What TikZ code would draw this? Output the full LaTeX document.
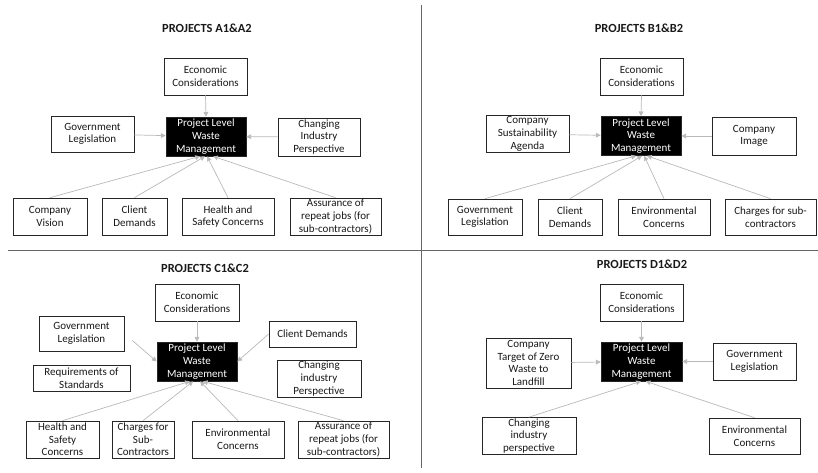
\documentclass[tikz,border=0pt]{standalone}
\usepackage{fontspec}
\setmainfont{Carlito}
\usepackage{tikz}
\usetikzlibrary{arrows.meta, positioning}
\tikzset{
	facbox/.style={draw=black!85, line width=0.6pt, fill=white, align=center, inner sep=1pt, text=black!90, font=\fontsize{9.4}{10.8}\selectfont},
	corebox/.style={facbox, fill=black, text=white},
	sz/.style 2 args={minimum width=#1*0.3mm, minimum height=#2*0.3mm},
	infarr/.style={-{Triangle[length=4pt, width=4pt]}, draw=gray!55, line width=0.6pt},
	paneltitle/.style={font=\fontsize{10.6}{12}\selectfont\bfseries, text=black!90},
	divider/.style={draw=gray!80!black, line width=0.8pt},
}

\begin{document}
\begin{tikzpicture}[x=0.03cm, y=-0.03cm]
	\useasboundingbox (0,0) rectangle (818,472);
	\draw[divider] (421,5) -- (421,468);
	\draw[divider] (8,250) -- (818,250);

	% projects A1 & A2
	\node[paneltitle] (titleA) at (207,28) {PROJECTS A1\&A2};
	\node[facbox, sz={83}{37}] (ecA) at (205.5,76.5) {Economic\\Considerations};
	\node[corebox, sz={80}{39}] (pmA) at (206,136.5) {Project Level\\Waste\\Management};
	\node[facbox, sz={83}{36}] (glA) at (92.5,134) {Government\\Legislation};
	\node[facbox, sz={82}{38}] (ciA) at (319,137) {Changing\\Industry\\Perspective};
	\node[facbox, sz={74}{37}] (cvA) at (50,216.5) {Company\\Vision};
	\node[facbox, sz={65}{37}] (cdA) at (134.5,216.5) {Client\\Demands};
	\node[facbox, sz={92}{37}] (hsA) at (228,216.5) {Health and\\Safety Concerns};
	\node[facbox, sz={91}{37}] (arA) at (335.5,216.5) {Assurance of\\repeat jobs (for\\sub-contractors)};
	\draw[infarr] (ecA.south) -- (pmA.north);
	\draw[infarr] (glA) -- (pmA);
	\draw[infarr] (ciA) -- (pmA);
	\draw[infarr] (cvA.north) -- (pmA.-107);
	\draw[infarr] (cdA.north) -- (pmA.-93);
	\draw[infarr] (hsA.north) -- (pmA.-87);
	\draw[infarr] (arA.north) -- (pmA.-70);

	% projects B1 & B2
	\node[paneltitle] (titleB) at (639,28) {PROJECTS B1\&B2};
	\node[facbox, sz={83}{37}] (ecB) at (641.5,76.5) {Economic\\Considerations};
	\node[corebox, sz={80}{39}] (pmB) at (641,136) {Project Level\\Waste\\Management};
	\node[facbox, sz={83}{36}] (csB) at (527.5,134) {Company\\Sustainability\\Agenda};
	\node[facbox, sz={84}{38}] (imB) at (754,136) {Company\\Image};
	\node[facbox, sz={74}{36}] (glB) at (485,217) {Government\\Legislation};
	\node[facbox, sz={64}{36}] (cdB) at (570,217) {Client\\Demands};
	\node[facbox, sz={92}{36}] (enB) at (664,217) {Environmental\\Concerns};
	\node[facbox, sz={91}{36}] (chB) at (770.5,217) {Charges for sub-\\contractors};
	\draw[infarr] (ecB.south) -- (pmB.north);
	\draw[infarr] (csB) -- (pmB);
	\draw[infarr] (imB) -- (pmB);
	\draw[infarr] (glB.north) -- (pmB.-104);
	\draw[infarr] (cdB.north) -- (pmB.-87);
	\draw[infarr] (enB.north) -- (pmB.-81);
	\draw[infarr] (chB.north) -- (pmB.-73);

	% projects C1 & C2
	\node[paneltitle] (titleC) at (205,268) {PROJECTS C1\&C2};
	\node[facbox, sz={84}{37}] (ecC) at (197,302.5) {Economic\\Considerations};
	\node[corebox, sz={80}{39}] (pmC) at (197,361.5) {Project Level\\Waste\\Management};
	\node[facbox, sz={85}{35}] (glC) at (81.5,333.5) {Government\\Legislation};
	\node[facbox, sz={87}{26}] (cdC) at (312.5,334) {Client Demands};
	\node[facbox, sz={97}{26}] (rsC) at (81.5,378) {Requirements of\\Standards};
	\node[facbox, sz={84}{37}] (ciC) at (319,378.5) {Changing\\industry\\Perspective};
	\node[facbox, sz={73}{37}] (hsC) at (62.5,439.5) {Health and\\Safety\\Concerns};
	\node[facbox, sz={62}{37}] (chC) at (143,439.5) {Charges for\\Sub-\\Contractors};
	\node[facbox, sz={92}{37}] (enC) at (238,439.5) {Environmental\\Concerns};
	\node[facbox, sz={91}{37}] (arC) at (343.5,439.5) {Assurance of\\repeat jobs (for\\sub-contractors)};
	\draw[infarr] (ecC.south) -- (pmC.north);
	\draw[infarr, shorten <=9pt] (glC.east) -- (pmC.west);
	\draw[infarr] (cdC.west) -- (pmC.east);
	\draw[infarr] (hsC.north) -- (pmC.-110);
	\draw[infarr] (chC.north) -- (pmC.-101);
	\draw[infarr] (enC.north) -- (pmC.-81);
	\draw[infarr] (arC.north) -- (pmC.-73);

	% projects D1 & D2
	\node[paneltitle] (titleD) at (642,264) {PROJECTS D1\&D2};
	\node[facbox, sz={83}{37}] (ecD) at (641.5,302.5) {Economic\\Considerations};
	\node[corebox, sz={81}{39}] (pmD) at (641.5,361.5) {Project Level\\Waste\\Management};
	\node[facbox, sz={85}{50}] (ztD) at (528.5,363) {Company\\Target of Zero\\Waste to\\Landfill};
	\node[facbox, sz={83}{37}] (glD) at (754.5,361.5) {Government\\Legislation};
	\node[facbox, sz={94}{36}] (ciD) at (529,436) {Changing\\industry\\perspective};
	\node[facbox, sz={91}{36}] (enD) at (754.5,436) {Environmental\\Concerns};
	\draw[infarr] (ecD.south) -- (pmD.north);
	\draw[infarr] (ztD) -- (pmD);
	\draw[infarr] (glD) -- (pmD);
	\draw[infarr] (ciD.north) -- (pmD.-92);
	\draw[infarr] (enD.north) -- (pmD.-78);
\end{tikzpicture}
\end{document}
